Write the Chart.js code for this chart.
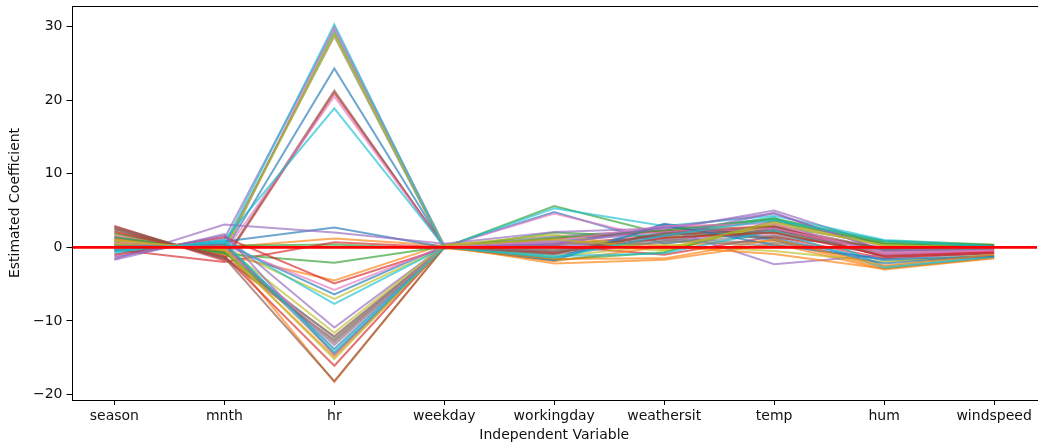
<!DOCTYPE html>
<html>
<head>
<meta charset="utf-8">
<script src="https://cdn.jsdelivr.net/npm/chart.js@4"></script>
<style>
html, body { margin: 0; padding: 0; background: #fff; }
#wrap { width: 1038px; height: 446px; }
</style>
</head>
<body>
<div id="wrap"><canvas id="myChart" width="1038" height="446"></canvas></div>
<script>
// independent variables on the x axis
const variables = ['season', 'mnth', 'hr', 'weekday', 'workingday', 'weathersit', 'temp', 'hum', 'windspeed'];
const yTicks = [-20, -10, 0, 10, 20, 30];
const baseline = [0, 0];

// one row per fitted model: season, mnth, hr, weekday, workingday, weathersit, temp, hum, windspeed
const coefficients = [
  [1.2, -0.6, 24.3, 0.1, 4.8, 0.5, 2.5, -1.2, -0.9],
  [0.4, 0.0, 1.2, 0.2, -2.2, -1.7, 0.5, -3.0, -1.5],
  [0.8, -0.3, 29.2, 0.0, 5.6, 1.8, 3.8, 0.6, 0.2],
  [2.9, -1.8, 21.0, 0.1, 0.4, 1.6, 2.7, -0.4, -0.3],
  [-1.2, 1.2, 29.7, 0.3, 1.5, 2.4, 5.0, 0.2, -0.1],
  [2.8, -1.6, 21.3, 0.0, -0.6, 1.2, 2.2, -0.3, 0.3],
  [1.5, -0.8, 30.0, 0.1, 4.6, 1.0, 1.8, -0.8, -0.6],
  [0.6, 0.1, 28.7, -0.1, -1.0, 0.8, 3.0, 0.4, 0.1],
  [1.0, -0.4, 28.9, 0.2, 0.8, -0.5, 3.3, 0.9, 0.4],
  [0.2, 0.4, 30.3, 0.0, 5.3, 2.9, 4.3, 1.0, 0.3],
  [-0.5, 0.8, 2.7, 0.0, -1.5, 3.2, 1.2, -1.8, -1.3],
  [1.8, -1.0, -4.5, 0.4, 1.0, 0.2, 0.9, -2.8, -1.4],
  [0.3, 0.2, 0.4, -0.2, 2.0, 1.4, 2.0, -0.9, -0.5],
  [-0.3, -2.0, 0.7, 0.0, 0.2, -1.0, 1.5, -1.5, -0.8],
  [-1.6, 3.1, 2.0, 0.5, 2.1, 2.6, -2.3, -1.0, -0.6],
  [2.3, -1.3, -12.1, 0.1, -0.9, 2.0, 1.3, 0.0, 0.2],
  [1.6, -0.7, 20.5, 0.0, 0.5, 2.5, 3.5, 0.1, -0.2],
  [0.9, -0.2, -13.3, 0.1, 0.3, 1.1, 0.6, -0.6, -0.4],
  [0.5, 0.0, -7.0, 0.0, -1.3, 0.3, -0.5, -2.0, -1.0],
  [-0.8, 1.0, 18.9, 0.1, 0.9, 1.9, 4.1, -2.6, -1.2],
  [-0.2, 0.5, -6.4, 0.2, 0.6, 2.8, 1.0, -2.2, -1.1],
  [0.7, -0.2, -18.3, 0.0, -1.9, 0.1, -0.9, -2.9, -1.4],
  [1.9, -0.9, -2.1, 0.1, -1.7, -0.7, 3.6, 0.5, 0.0],
  [-1.0, 1.4, -4.9, -0.1, 1.2, 2.2, 2.9, -1.3, -0.7],
  [-1.4, 1.6, -10.9, 0.2, 0.0, 1.5, 4.7, -0.5, -0.3],
  [2.5, -1.5, -12.6, 0.0, -0.4, 1.7, 2.4, -0.2, 0.1],
  [0.1, 0.3, -5.8, 0.1, 0.7, 2.1, 2.6, -0.7, -0.5],
  [1.3, -0.6, -12.3, 0.0, -0.2, 0.6, 1.6, -0.1, 0.0],
  [0.4, 0.1, -11.6, 0.3, 1.7, -0.3, 3.1, 0.3, -0.1],
  [-0.6, 0.9, -7.7, 0.0, -1.2, -0.8, 2.3, -2.8, -1.3],
  [0.0, 0.4, -13.8, 0.1, -1.8, 3.1, 0.3, -1.6, -1.2],
  [1.1, -0.5, -14.9, -0.1, -1.6, -1.5, 1.1, -2.5, -1.0],
  [1.4, -0.7, -12.9, 0.0, 1.3, 2.3, 3.9, 0.8, 0.3],
  [2.1, -1.2, -16.1, 0.2, -0.7, 1.3, 2.0, -1.1, -0.6],
  [-1.7, 1.8, -14.6, 0.1, 0.4, 2.7, 4.6, -0.4, -0.2],
  [2.6, -1.4, -18.2, 0.0, -0.8, 1.9, 2.8, -0.2, 0.2],
  [0.7, -0.1, -13.0, 0.1, 0.9, 2.9, 3.2, -0.9, -0.4],
  [0.2, 0.3, -14.4, 0.0, -0.5, 0.9, 0.2, -0.3, -0.2],
  [0.9, -0.3, -15.2, 0.2, 1.1, -0.2, 3.4, 0.2, 0.0],
  [-0.4, 0.7, -14.2, 0.0, -1.4, 1.6, 3.7, 0.9, 0.1]
];

// matplotlib tab10
const palette = ['31,119,180', '255,127,14', '44,160,44', '214,39,40', '148,103,189',
                 '140,86,75', '227,119,194', '127,127,127', '188,189,34', '23,190,207'];

const xMin = -0.39;
const xMax = variables.length - 1 + 0.39;

Chart.defaults.font.family = "'DejaVu Sans', sans-serif";
Chart.defaults.color = '#111';

// box around the axes, like the matplotlib spines
const frame = {
  id: 'frame',
  afterDatasetsDraw(chart) {
    const a = chart.chartArea;
    const ctx = chart.ctx;
    ctx.save();
    ctx.strokeStyle = '#000';
    ctx.lineWidth = 1;
    ctx.strokeRect(Math.round(a.left) + 0.5, Math.round(a.top) + 0.5,
                   Math.round(a.right - a.left), Math.round(a.bottom - a.top));
    ctx.restore();
  }
};

const datasets = coefficients.map((row, k) => ({
  data: row.map((v, i) => ({x: i, y: v})),
  borderColor: 'rgba(' + palette[k % 10] + ',0.65)',
  borderWidth: 2,
  pointRadius: 0,
  tension: 0,
  order: -k
}));

datasets.push({
  data: [{x: xMin, y: baseline[0]}, {x: xMax, y: baseline[1]}],
  borderColor: '#ff0000',
  borderWidth: 2.8,
  pointRadius: 0,
  order: -1000
});

const ctx = document.getElementById('myChart');
const c = new Chart(ctx, {
  type: 'line',
  data: { datasets: datasets },
  plugins: [frame],
  options: {
    responsive: false,
    animation: false,
    devicePixelRatio: 1,
    layout: { padding: { left: 0, right: 1, top: 6, bottom: 0 } },
    plugins: { legend: { display: false }, tooltip: { enabled: false } },
    scales: {
      x: {
        type: 'linear',
        min: xMin,
        max: xMax,
        afterBuildTicks: (scale) => { scale.ticks = variables.map((v, i) => ({value: i})); },
        afterFit: (scale) => { scale.height = 46; scale.paddingLeft = 0; scale.paddingRight = 0; },
        ticks: {
          font: { size: 14 },
          padding: 3,
          maxRotation: 0,
          autoSkip: false,
          callback: (value) => variables[value]
        },
        grid: { display: true, drawOnChartArea: false, drawTicks: true, tickLength: 5, color: '#000' },
        border: { display: false },
        title: { display: true, text: 'Independent Variable', font: { size: 14 }, padding: { top: 0, bottom: 2 } }
      },
      y: {
        min: -20.75,
        max: 32.8,
        afterBuildTicks: (scale) => { scale.ticks = yTicks.map(v => ({value: v})); },
        afterFit: (scale) => { scale.width = 71.5; scale.paddingTop = 0; scale.paddingBottom = 0; },
        ticks: {
          font: { size: 14 },
          padding: 4,
          callback: (value) => String(value).replace('-', '\u2212')
        },
        grid: { display: true, drawOnChartArea: false, drawTicks: true, tickLength: 5, color: '#000' },
        border: { display: false },
        title: { display: true, text: 'Estimated Coefficient', font: { size: 14 }, padding: { top: 7, bottom: 0 } }
      }
    }
  }
});
</script>
</body>
</html>
